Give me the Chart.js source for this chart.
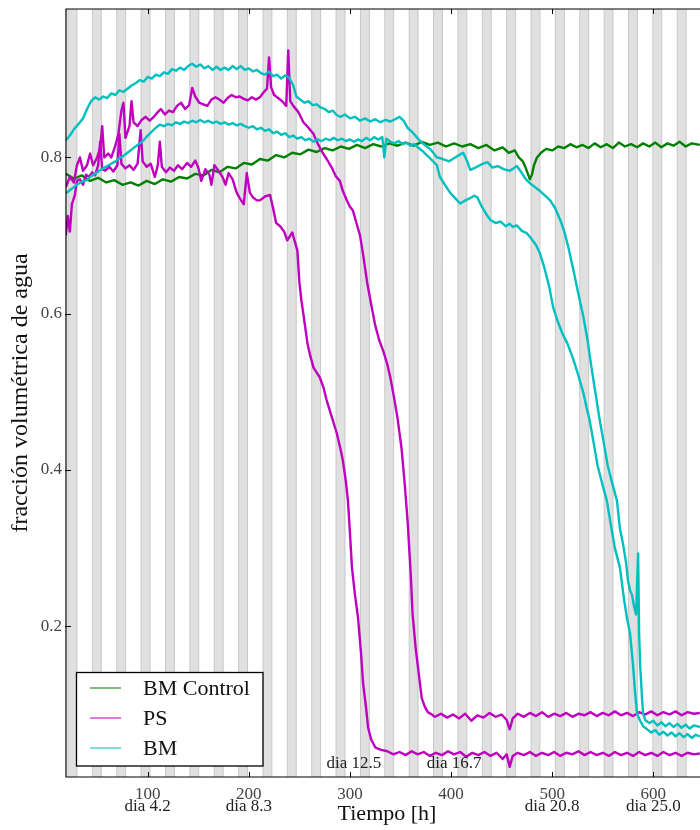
<!DOCTYPE html>
<html>
<head>
<meta charset="utf-8">
<script src="https://cdn.jsdelivr.net/npm/chart.js@4.4.1/dist/chart.umd.min.js"></script>
<style>
html, body { margin: 0; padding: 0; background: #fff; }
#wrap { width: 700px; height: 830px; }
</style>
</head>
<body>
<div id="wrap"><canvas id="chart" width="700" height="830"></canvas></div>
<script>
// water volume fraction vs time [h]
const controlBM = [[19,0.779],[27,0.773],[35,0.777],[43,0.770],[51,0.774],[59,0.768],[67,0.771],[75,0.765],[83,0.768],[91,0.764],[99,0.770],[107,0.766],[115,0.772],[123,0.769],[131,0.775],[139,0.773],[147,0.779],[155,0.777],[163,0.784],[171,0.781],[179,0.788],[187,0.786],[195,0.793],[203,0.791],[211,0.798],[219,0.796],[227,0.803],[235,0.800],[243,0.806],[251,0.804],[259,0.810],[267,0.807],[275,0.812],[283,0.809],[291,0.814],[299,0.811],[307,0.816],[315,0.812],[323,0.817],[331,0.814],[339,0.818],[347,0.815],[355,0.819],[363,0.815],[371,0.820],[379,0.816],[387,0.819],[395,0.814],[403,0.818],[411,0.814],[419,0.817],[427,0.812],[435,0.816],[443,0.809],[451,0.813],[457,0.806],[463,0.809],[467,0.800],[471,0.795],[474,0.786],[476,0.779],[478,0.772],[480,0.778],[482,0.790],[485,0.800],[489,0.806],[494,0.811],[500,0.809],[506,0.814],[512,0.812],[518,0.817],[524,0.813],[530,0.816],[536,0.812],[542,0.818],[548,0.813],[554,0.817],[560,0.812],[566,0.819],[572,0.814],[578,0.817],[584,0.813],[590,0.818],[596,0.814],[602,0.819],[608,0.813],[614,0.818],[620,0.815],[626,0.820],[632,0.814],[638,0.818],[646,0.816]];

const psA = [[19,0.762],[23,0.775],[27,0.768],[30,0.790],[33,0.800],[36,0.783],[40,0.790],[43,0.805],[46,0.790],[50,0.800],[53,0.812],[55,0.840],[57,0.800],[61,0.805],[64,0.800],[68,0.815],[71,0.830],[74,0.860],[76,0.870],[78,0.825],[82,0.840],[84,0.872],[86,0.845],[90,0.840],[94,0.848],[98,0.852],[102,0.847],[106,0.852],[110,0.858],[113,0.862],[117,0.855],[121,0.860],[125,0.858],[129,0.866],[133,0.870],[137,0.862],[141,0.867],[144,0.889],[147,0.878],[151,0.870],[155,0.868],[159,0.866],[163,0.874],[167,0.877],[171,0.874],[175,0.870],[179,0.876],[183,0.880],[187,0.877],[191,0.878],[195,0.875],[199,0.873],[203,0.877],[207,0.874],[211,0.877],[215,0.884],[218,0.888],[220,0.928],[222,0.890],[225,0.880],[229,0.876],[233,0.872],[237,0.866],[239,0.937],[241,0.872],[244,0.866],[249,0.858],[254,0.845],[259,0.838],[264,0.830],[268,0.818],[273,0.806],[277,0.798],[282,0.787],[286,0.776],[290,0.770],[293,0.757],[297,0.745],[300,0.737],[303,0.732],[306,0.718],[310,0.700],[313,0.676],[317,0.640],[321,0.612],[325,0.585],[329,0.566],[333,0.552],[337,0.535],[340,0.518],[344,0.490],[347,0.467],[351,0.428],[354,0.385],[357,0.335],[360,0.270],[362,0.215],[365,0.172],[368,0.140],[371,0.108],[374,0.097],[377,0.090],[381,0.087],[384,0.084],[390,0.088],[396,0.083],[402,0.087],[408,0.082],[414,0.088],[420,0.079],[426,0.086],[432,0.083],[438,0.089],[444,0.084],[450,0.087],[455,0.080],[458,0.068],[461,0.082],[466,0.088],[472,0.084],[478,0.089],[484,0.085],[490,0.090],[496,0.084],[502,0.088],[508,0.085],[514,0.089],[520,0.084],[526,0.088],[532,0.086],[538,0.090],[544,0.085],[550,0.089],[556,0.086],[562,0.091],[568,0.086],[574,0.089],[580,0.085],[586,0.090],[592,0.087],[598,0.091],[604,0.086],[610,0.090],[616,0.087],[622,0.091],[628,0.086],[634,0.090],[640,0.088],[646,0.089]];

const psB = [[19,0.700],[21,0.725],[23,0.705],[25,0.740],[28,0.752],[30,0.770],[33,0.772],[36,0.765],[39,0.778],[42,0.775],[45,0.781],[48,0.777],[51,0.790],[53,0.820],[55,0.785],[58,0.783],[62,0.788],[66,0.782],[70,0.790],[72,0.830],[74,0.792],[78,0.786],[82,0.790],[86,0.784],[90,0.792],[93,0.835],[95,0.795],[99,0.788],[103,0.792],[107,0.775],[110,0.790],[112,0.820],[114,0.788],[118,0.781],[122,0.787],[126,0.783],[130,0.790],[134,0.785],[139,0.793],[143,0.788],[147,0.796],[150,0.787],[153,0.770],[157,0.785],[161,0.778],[163,0.765],[166,0.790],[170,0.783],[174,0.775],[177,0.765],[180,0.780],[184,0.772],[188,0.755],[191,0.748],[195,0.740],[198,0.780],[201,0.755],[204,0.749],[208,0.745],[211,0.745],[216,0.750],[221,0.752],[224,0.735],[227,0.716],[231,0.712],[235,0.705],[238,0.694],[241,0.700],[243,0.704],[246,0.690],[248,0.681],[250,0.640],[252,0.617],[255,0.590],[258,0.562],[261,0.545],[264,0.531],[267,0.525],[270,0.519],[274,0.505],[277,0.489],[282,0.468],[287,0.447],[291,0.425],[293,0.412],[296,0.385],[298,0.361],[300,0.320],[302,0.275],[305,0.240],[308,0.211],[311,0.165],[313,0.127],[316,0.095],[318,0.070],[321,0.055],[325,0.045],[330,0.042],[337,0.040],[343,0.036],[349,0.039],[355,0.035],[361,0.040],[367,0.036],[373,0.039],[379,0.034],[385,0.038],[391,0.035],[397,0.040],[403,0.036],[409,0.039],[415,0.033],[421,0.038],[427,0.035],[433,0.039],[439,0.034],[445,0.038],[451,0.030],[455,0.036],[458,0.020],[461,0.034],[466,0.038],[472,0.035],[478,0.039],[484,0.034],[490,0.038],[496,0.035],[502,0.039],[508,0.034],[514,0.038],[520,0.036],[526,0.040],[532,0.035],[538,0.039],[544,0.035],[550,0.038],[556,0.034],[562,0.039],[568,0.035],[574,0.038],[580,0.034],[586,0.039],[592,0.035],[598,0.038],[604,0.034],[610,0.039],[616,0.035],[622,0.038],[628,0.034],[634,0.038],[640,0.036],[646,0.037]];

const bmA = [[19,0.822],[23,0.828],[27,0.836],[31,0.842],[36,0.850],[40,0.862],[44,0.872],[48,0.877],[52,0.874],[56,0.878],[60,0.876],[64,0.882],[68,0.880],[72,0.886],[76,0.884],[80,0.888],[84,0.892],[88,0.895],[92,0.899],[96,0.897],[100,0.903],[104,0.901],[108,0.906],[112,0.904],[116,0.909],[120,0.907],[124,0.913],[128,0.911],[132,0.915],[136,0.912],[140,0.917],[144,0.920],[148,0.916],[152,0.919],[156,0.914],[160,0.917],[164,0.912],[168,0.916],[172,0.912],[176,0.915],[180,0.912],[184,0.917],[188,0.913],[192,0.917],[196,0.912],[200,0.914],[204,0.910],[208,0.912],[212,0.908],[216,0.906],[220,0.910],[224,0.904],[228,0.906],[232,0.901],[236,0.905],[240,0.902],[244,0.892],[247,0.878],[251,0.874],[255,0.870],[259,0.872],[263,0.867],[267,0.868],[271,0.864],[275,0.862],[279,0.858],[283,0.860],[287,0.854],[291,0.852],[295,0.855],[300,0.850],[305,0.852],[310,0.847],[315,0.850],[320,0.846],[325,0.849],[330,0.845],[335,0.848],[340,0.846],[345,0.849],[349,0.852],[353,0.847],[357,0.838],[362,0.832],[366,0.826],[370,0.820],[375,0.815],[380,0.810],[386,0.800],[392,0.798],[398,0.795],[404,0.800],[408,0.803],[412,0.806],[416,0.795],[419,0.784],[424,0.787],[430,0.791],[436,0.794],[441,0.787],[446,0.789],[452,0.785],[458,0.783],[462,0.786],[465,0.789],[470,0.780],[474,0.772],[478,0.767],[483,0.762],[488,0.757],[493,0.751],[498,0.745],[503,0.735],[508,0.720],[512,0.705],[516,0.685],[521,0.656],[526,0.625],[531,0.595],[535,0.566],[539,0.530],[543,0.497],[547,0.464],[551,0.435],[555,0.405],[560,0.380],[564,0.361],[567,0.325],[570,0.306],[573,0.282],[575,0.258],[577,0.246],[579,0.240],[581,0.225],[583,0.215],[585,0.293],[586,0.190],[587,0.150],[589,0.105],[590,0.088],[592,0.080],[596,0.076],[600,0.079],[604,0.073],[608,0.077],[612,0.072],[616,0.076],[620,0.071],[624,0.075],[628,0.070],[632,0.074],[636,0.069],[640,0.073],[646,0.071]];

const bmB = [[19,0.754],[23,0.758],[27,0.762],[31,0.766],[35,0.769],[40,0.771],[44,0.776],[48,0.779],[52,0.783],[56,0.786],[60,0.789],[64,0.792],[68,0.795],[72,0.799],[76,0.802],[80,0.806],[84,0.810],[88,0.814],[92,0.818],[96,0.822],[100,0.828],[104,0.833],[108,0.838],[112,0.842],[116,0.840],[120,0.843],[124,0.841],[128,0.845],[132,0.843],[136,0.846],[140,0.844],[144,0.847],[148,0.845],[152,0.848],[156,0.845],[160,0.847],[164,0.844],[168,0.846],[172,0.843],[176,0.845],[180,0.842],[184,0.844],[188,0.841],[192,0.843],[196,0.840],[200,0.838],[204,0.840],[208,0.836],[212,0.838],[216,0.834],[220,0.836],[224,0.831],[228,0.833],[232,0.829],[236,0.831],[240,0.826],[244,0.828],[248,0.824],[252,0.826],[256,0.822],[260,0.824],[264,0.820],[268,0.823],[272,0.821],[276,0.824],[280,0.822],[284,0.825],[288,0.822],[292,0.824],[296,0.821],[300,0.823],[304,0.820],[308,0.823],[312,0.821],[316,0.825],[320,0.822],[324,0.826],[328,0.823],[332,0.826],[334,0.800],[336,0.824],[340,0.820],[344,0.818],[348,0.821],[352,0.817],[356,0.819],[360,0.815],[364,0.817],[368,0.812],[372,0.808],[376,0.803],[380,0.798],[386,0.790],[389,0.775],[394,0.765],[399,0.755],[404,0.748],[409,0.741],[414,0.745],[419,0.748],[423,0.751],[426,0.749],[430,0.738],[435,0.727],[439,0.720],[444,0.716],[449,0.718],[454,0.712],[458,0.715],[461,0.711],[465,0.713],[470,0.706],[475,0.703],[480,0.695],[484,0.688],[488,0.677],[492,0.660],[497,0.635],[501,0.608],[505,0.592],[510,0.575],[515,0.562],[520,0.545],[525,0.525],[531,0.498],[534,0.480],[537,0.464],[541,0.435],[545,0.405],[550,0.380],[554,0.361],[558,0.330],[562,0.300],[567,0.275],[571,0.235],[574,0.210],[577,0.191],[580,0.150],[582,0.115],[584,0.088],[587,0.079],[590,0.072],[594,0.068],[598,0.064],[602,0.067],[606,0.061],[610,0.065],[614,0.060],[618,0.064],[622,0.059],[626,0.063],[630,0.058],[634,0.062],[638,0.057],[642,0.061],[646,0.059]];

const legendNames = ['BM Control', 'PS', 'BM'];
const xTicks = [100, 200, 300, 400, 500, 600];
const xTickDays = ['dia 4.2', 'dia 8.3', '', '', 'dia 20.8', 'dia 25.0'];
const innerDays = ['dia 12.5', 'dia 16.7'];
const innerDayAt = [304, 403];
const yTicks = [0.2, 0.4, 0.6, 0.8];

// night periods (grey bands), in hours
const nightStart = 21.2, nightLen = 8.8, dayLen = 24.1;

const GREEN = '#008000', MAGENTA = '#bf00bf', CYAN = '#00bfbf';
const SERIF = '"Liberation Serif", "DejaVu Serif", serif';

function line(pts, color, order) {
    return {
        data: pts.map(p => ({ x: p[0], y: p[1] })),
        borderColor: color,
        borderWidth: 2.4,
        borderJoinStyle: 'round',
        pointRadius: 0,
        showLine: true,
        tension: 0,
        fill: false,
        order: order
    };
}

const nightBands = {
    id: 'nightBands',
    beforeDatasetsDraw(chart) {
        const { ctx, chartArea: a, scales: { x } } = chart;
        ctx.save();
        ctx.beginPath();
        ctx.rect(a.left, a.top, a.right - a.left, a.bottom - a.top);
        ctx.clip();
        for (let t = nightStart; t < x.max; t += dayLen) {
            const x0 = x.getPixelForValue(t);
            const x1 = x.getPixelForValue(t + nightLen);
            ctx.fillStyle = '#e0e0e0';
            ctx.fillRect(x0, a.top, x1 - x0, a.bottom - a.top);
            ctx.strokeStyle = '#c8c8c8';
            ctx.lineWidth = 1;
            ctx.beginPath();
            ctx.moveTo(x0, a.top); ctx.lineTo(x0, a.bottom);
            ctx.moveTo(x1, a.top); ctx.lineTo(x1, a.bottom);
            ctx.stroke();
        }
        ctx.restore();
    }
};

const frame = {
    id: 'frame',
    afterDatasetsDraw(chart) {
        const { ctx, chartArea: a, scales: { x, y } } = chart;
        ctx.save();

        // axes box (right side is cut off)
        ctx.strokeStyle = '#000';
        ctx.lineWidth = 1.2;
        ctx.beginPath();
        ctx.moveTo(a.right + 2, a.top); ctx.lineTo(a.left, a.top);
        ctx.lineTo(a.left, a.bottom); ctx.lineTo(a.right + 2, a.bottom);
        ctx.stroke();

        // inward ticks
        ctx.lineWidth = 1;
        ctx.beginPath();
        xTicks.forEach(v => {
            const px = Math.round(x.getPixelForValue(v)) + 0.5;
            ctx.moveTo(px, a.bottom); ctx.lineTo(px, a.bottom - 5);
            ctx.moveTo(px, a.top); ctx.lineTo(px, a.top + 5);
        });
        yTicks.forEach(v => {
            const py = Math.round(y.getPixelForValue(v)) + 0.5;
            ctx.moveTo(a.left - 1, py); ctx.lineTo(a.left + 5, py);
        });
        ctx.stroke();

        // tick labels
        ctx.font = '17px ' + SERIF;
        ctx.textAlign = 'center';
        ctx.textBaseline = 'alphabetic';
        xTicks.forEach((v, i) => {
            const px = x.getPixelForValue(v);
            ctx.fillStyle = '#444';
            ctx.fillText(String(v), px, a.bottom + 22);
            if (xTickDays[i]) {
                ctx.fillStyle = '#222';
                ctx.fillText(xTickDays[i], px, a.bottom + 34);
            }
        });
        ctx.fillStyle = '#222';
        innerDays.forEach((t, i) => {
            ctx.fillText(t, x.getPixelForValue(innerDayAt[i]), a.bottom - 9);
        });
        ctx.textAlign = 'right';
        ctx.textBaseline = 'middle';
        ctx.fillStyle = '#444';
        yTicks.forEach(v => {
            ctx.fillText(v.toFixed(1), a.left - 4, y.getPixelForValue(v));
        });

        // axis titles
        ctx.fillStyle = '#111';
        ctx.font = '22px ' + SERIF;
        ctx.textAlign = 'center';
        ctx.textBaseline = 'alphabetic';
        ctx.fillText('Tiempo [h]', 387, a.bottom + 43);
        ctx.save();
        ctx.translate(21, (a.top + a.bottom) / 2);
        ctx.rotate(-Math.PI / 2);
        ctx.font = '24px ' + SERIF;
        ctx.textBaseline = 'middle';
        ctx.fillText('fracción volumétrica de agua', 0, 0);
        ctx.restore();

        // legend box
        const lx = 76.5, ly = 672.5, lw = 186.5, lh = 93.5;
        ctx.fillStyle = '#fff';
        ctx.fillRect(lx, ly, lw, lh);
        ctx.strokeStyle = '#000';
        ctx.lineWidth = 1.3;
        ctx.strokeRect(lx, ly, lw, lh);
        const cols = [GREEN, MAGENTA, CYAN];
        legendNames.forEach((name, i) => {
            const cy = 688 + i * 30;
            ctx.globalAlpha = 0.65;
            ctx.strokeStyle = cols[i];
            ctx.lineWidth = 1.6;
            ctx.beginPath();
            ctx.moveTo(90, cy); ctx.lineTo(121, cy);
            ctx.stroke();
            ctx.globalAlpha = 1;
            ctx.fillStyle = '#111';
            ctx.font = '22px ' + SERIF;
            ctx.textAlign = 'left';
            ctx.textBaseline = 'middle';
            ctx.fillText(name, 143, cy + 1);
        });

        ctx.restore();
    }
};

new Chart(document.getElementById('chart'), {
    type: 'scatter',
    data: {
        datasets: [
            line(controlBM, GREEN, 2),
            line(psA, MAGENTA, 1),
            line(psB, MAGENTA, 1),
            line(bmA, CYAN, 0),
            line(bmB, CYAN, 0)
        ]
    },
    options: {
        responsive: false,
        animation: false,
        devicePixelRatio: 1,
        layout: { padding: { top: 9, left: 0, right: 0, bottom: 0 } },
        plugins: { legend: { display: false }, tooltip: { enabled: false } },
        scales: {
            x: {
                type: 'linear', min: 19.2, max: 646.2,
                grid: { display: false }, border: { display: false },
                ticks: { display: false },
                afterFit: s => { s.height = 53; }
            },
            y: {
                type: 'linear', min: 0.007, max: 0.99,
                grid: { display: false }, border: { display: false },
                ticks: { display: false },
                afterFit: s => { s.width = 66; }
            }
        }
    },
    plugins: [nightBands, frame]
});
</script>
</body>
</html>
